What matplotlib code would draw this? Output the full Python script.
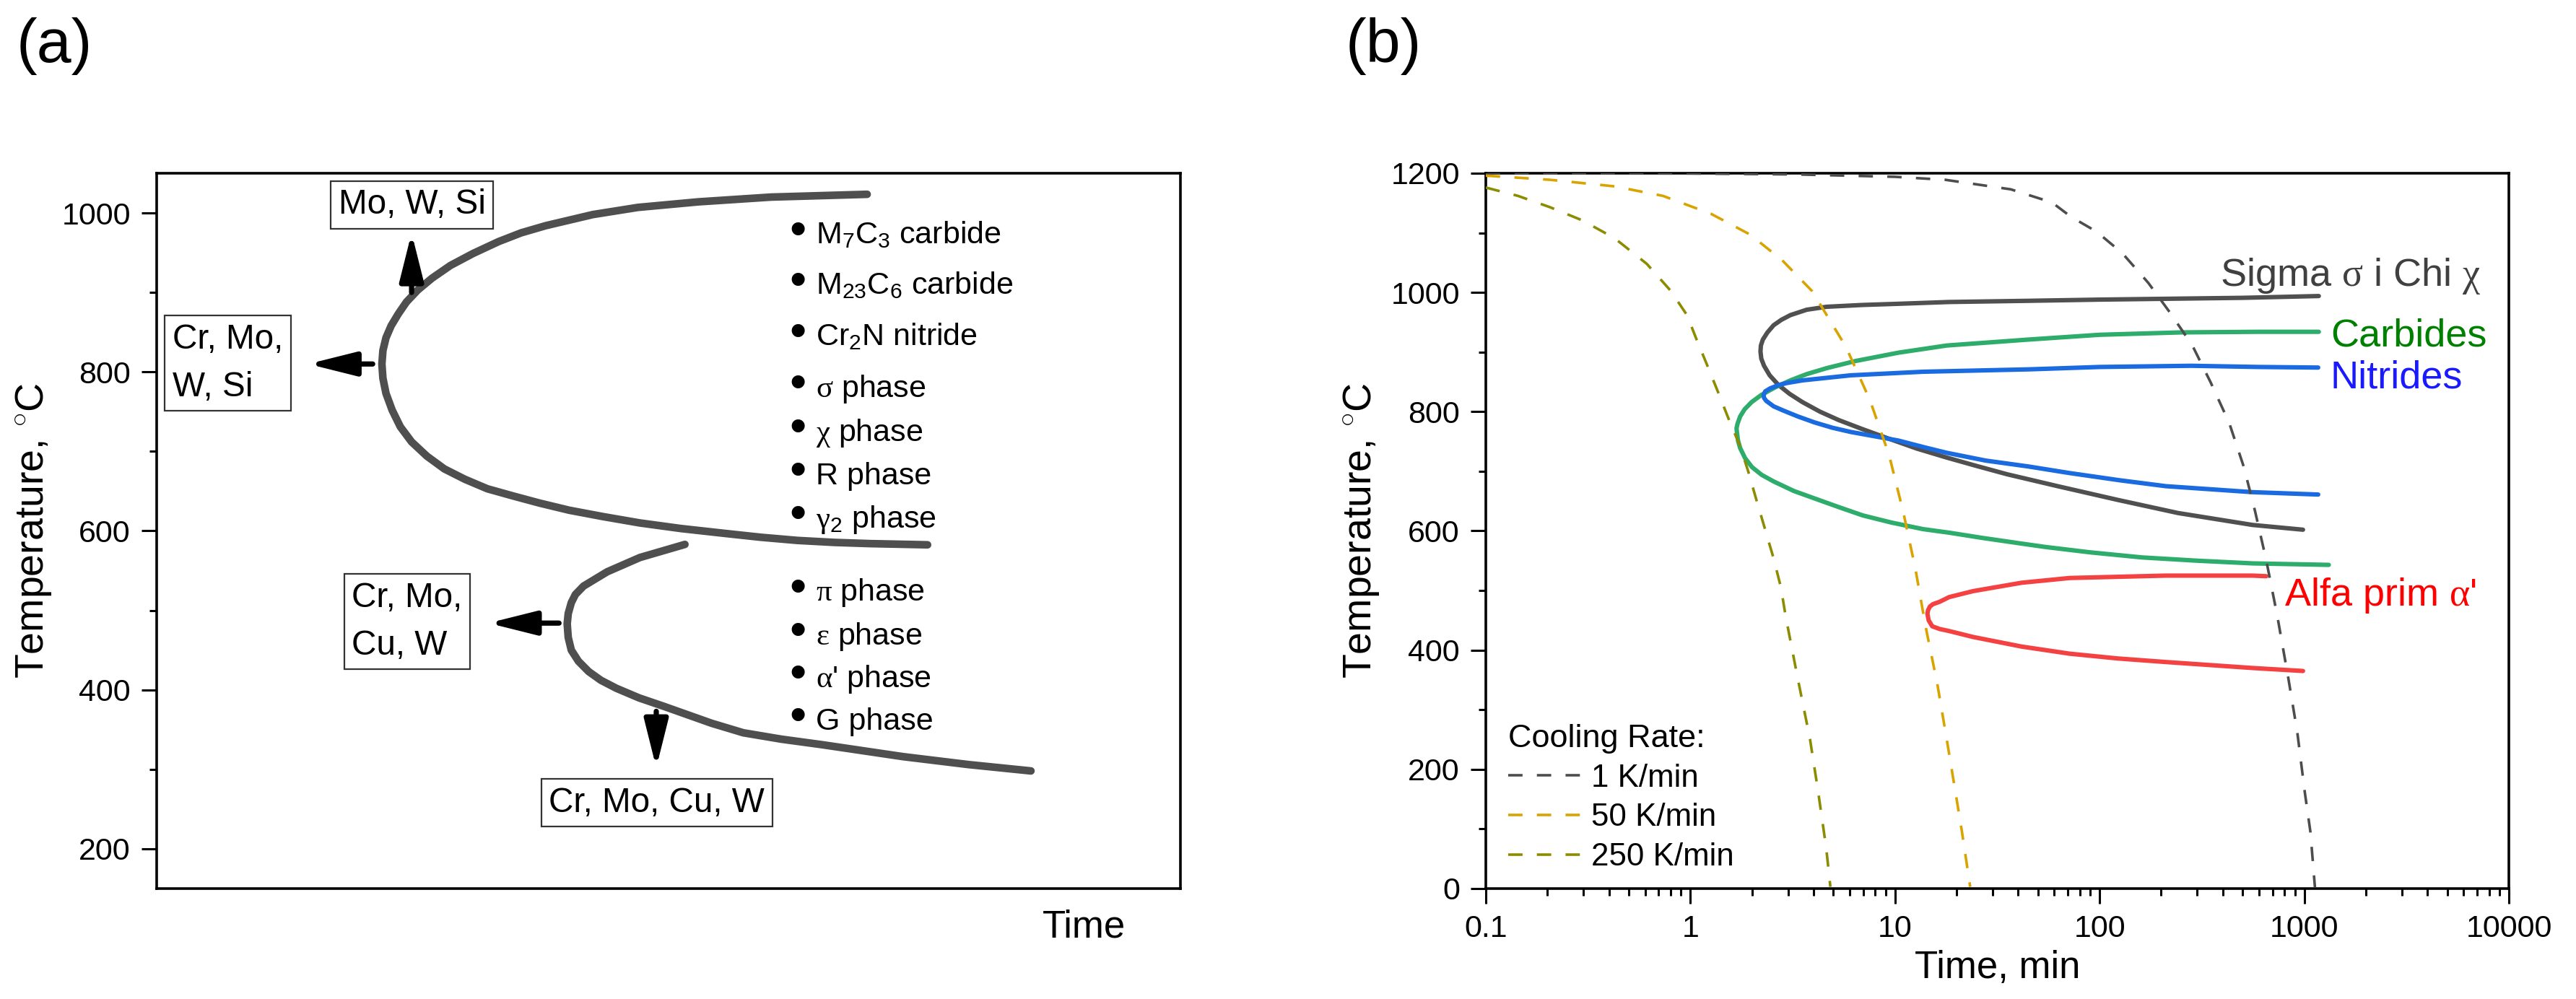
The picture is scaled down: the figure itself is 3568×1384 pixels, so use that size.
import matplotlib
matplotlib.use('Agg')
import matplotlib.pyplot as plt
from matplotlib.ticker import MultipleLocator, FixedLocator, FuncFormatter, NullFormatter, LogLocator

plt.rcParams['font.family'] = ['Liberation Sans', 'DejaVu Sans']
plt.rcParams['mathtext.fontset'] = 'custom'
plt.rcParams['mathtext.rm'] = 'Liberation Sans'
plt.rcParams['mathtext.it'] = 'Liberation Sans:italic'
plt.rcParams['mathtext.bf'] = 'Liberation Sans:bold'
plt.rcParams['mathtext.sf'] = 'Liberation Serif'

# ---------------- Panel (a) data (schematic TTP diagram, arbitrary time units 0-100) -------------
a_upper_x = [69.4, 60.0, 52.9, 47.0, 42.6, 38.0, 35.6, 33.4, 30.9, 28.7, 26.9, 25.5, 24.4, 23.6,
             22.9, 22.4, 22.1, 22.0, 22.1, 22.4, 23.0, 23.8, 24.9, 26.4, 28.1, 30.1, 32.3, 34.8,
             37.4, 40.3, 43.6, 47.2, 51.2, 55.4, 59.0, 62.6, 66.2, 69.7, 75.3]
a_upper_T = [1023.5, 1020, 1014, 1007, 998, 984, 975, 964, 949, 934, 918, 903, 888, 873,
             858, 843, 827, 810, 792, 773, 752, 731, 712, 694, 678, 665, 653, 644,
             635, 626, 618, 610, 603, 597, 592, 588, 585.5, 584, 582.5]
a_lower_x = [51.6, 47.2, 44.0, 41.7, 40.9, 40.5, 40.2, 40.1, 40.2, 40.5, 41.2, 42.2, 43.4,
             44.9, 47.1, 49.6, 54.2, 57.3, 61.0, 65.0, 72.9, 79.3, 85.4]
a_lower_T = [583, 566.5, 548.5, 530.6, 520, 509.7, 496, 483, 466, 450, 436, 423, 412,
             402, 390, 379, 358, 346, 338, 331, 316, 306, 298]

a_phase_labels = [r'M$_7$C$_3$ carbide', r'M$_{23}$C$_6$ carbide', r'Cr$_2$N nitride',
                  r'$\mathsf{\sigma}$ phase', r'$\mathsf{\chi}$ phase', 'R phase',
                  r'$\mathsf{\gamma}_2$ phase', r'$\mathsf{\pi}$ phase', r'$\mathsf{\varepsilon}$ phase',
                  r"$\mathsf{\alpha}$' phase", 'G phase']
a_phase_T = [961.6, 898, 833.7, 768.8, 713, 659, 604.5, 512, 457.3, 403.3, 350]
a_phase_x = 64.4

a_box_texts = ['Mo, W, Si', 'Cr, Mo,\nW, Si', 'Cr, Mo,\nCu, W', 'Cr, Mo, Cu, W']
a_box_x = [24.96, 6.95, 24.47, 48.84]
a_box_T = [1010.4, 810.9, 485.7, 258]

a_arrow_start = [(24.9, 900), (21.1, 810), (39.3, 484), (48.8, 373)]
a_arrow_end = [(24.9, 975), (14.8, 810), (32.4, 484), (48.8, 302)]

# ---------------- Panel (b) data ----------------
sig_t = [1178, 500, 100, 45, 18.4, 10.4, 6.9, 4.63, 3.7, 3.08, 2.78, 2.55, 2.38, 2.26, 2.21,
         2.2, 2.22, 2.29, 2.44, 2.69, 3.05, 3.53, 4.3, 5.30, 6.9, 9.1, 12.8, 17.9, 25, 35.3,
         62.4, 122.6, 241.5, 558.6, 986]
sig_T = [994, 991, 988, 986, 984, 981, 979, 976, 971, 962, 954, 945, 933, 921, 911,
         901, 889, 877, 861, 845, 830, 816, 800, 786, 771, 756, 738, 723, 709, 695,
         675, 652, 630, 610, 602]

carb_t = [1178, 600, 250, 100, 45, 17.9, 10.4, 6.41, 4.63, 3.7, 3.08, 2.6, 2.22, 1.99, 1.84,
          1.75, 1.70, 1.68, 1.69, 1.71, 1.75, 1.85, 2.0, 2.23, 2.55, 3.2, 4.04, 5.3, 6.95,
          9.6, 13.7, 18.4, 27, 45, 54.4, 90, 161, 300, 559, 1318]
carb_T = [934, 934, 933, 929, 921, 911, 899, 885, 873, 863, 852.5, 841, 828, 816, 804,
          792, 780, 772, 764, 751, 739, 722, 707, 694, 683, 667, 654.5, 640, 626,
          614, 603, 597, 588, 577, 573, 564, 555.5, 550, 545.5, 543]

nit_t = [1170, 600, 280, 100, 45, 13.7, 6.07, 3.53, 2.95, 2.69, 2.45, 2.32, 2.28, 2.29, 2.35,
         2.55, 2.84, 3.35, 4.04, 4.95, 6.07, 10.4, 14.0, 17.9, 27.7, 45, 71.4, 125, 211, 559, 1170]
nit_T = [874, 875, 877, 875, 871, 867, 861, 852.5, 848, 844.5, 839, 834, 828, 823, 818,
         809, 802, 792, 782, 773, 766, 751.5, 740, 731, 718, 708, 697, 685, 675, 665, 661]

alfa_t = [652, 559, 211, 71.4, 41.5, 24.1, 18.4, 16.5, 15.3, 14.8, 14.5, 14.4, 14.6, 15.2,
          16.5, 18.4, 24.1, 41.5, 71.4, 122.6, 211, 559, 986]
alfa_T = [524, 525, 525, 521, 513, 499, 489, 481, 477, 473, 467, 461, 450, 440,
          435.5, 432, 422, 406, 394, 386, 380, 370, 365]

r1_t = [0.1, 1, 3.3, 10, 17.6, 36.8, 58.5, 72.4, 96.6, 129, 173, 221, 284, 349, 430, 507,
        575, 651, 737, 835, 925, 1006, 1072, 1128]
r1_T = [1200, 1199.5, 1198, 1194, 1189, 1173, 1151, 1127, 1102, 1066, 1016, 966, 911, 849,
        781, 707, 633, 552, 459, 354, 262, 162, 95, 2]

r50_t = [0.1, 0.206, 0.426, 0.734, 1.26, 1.96, 2.81, 3.94, 5.75, 7.53, 9.36, 11.0, 12.6,
         14.1, 16.1, 17.9, 20.0, 21.2, 23.3]
r50_T = [1196, 1189, 1178, 1162, 1132, 1097, 1054, 1002, 909, 820, 727, 630, 535,
         440, 343, 250, 150, 97, 3]

r250_t = [0.1, 0.1436, 0.206, 0.296, 0.426, 0.612, 0.80, 0.962, 1.072, 1.211, 1.368, 1.545,
          1.746, 1.92, 2.11, 2.32, 2.55, 2.77, 2.92, 3.34, 3.84, 4.2, 4.61, 4.83]
r250_T = [1176, 1162, 1143, 1121, 1091, 1048, 1003, 962, 921, 877, 832, 786,
          743, 699, 650, 602, 554, 505, 457, 354, 251, 165, 68, 3]

rate_labels = ['1 K/min', '50 K/min', '250 K/min']
rate_colors = ['#4d4d4d', '#d9a300', '#8c8c00']

b_series_labels = [r'Sigma $\mathsf{\sigma}$ i Chi $\mathsf{\chi}$', 'Carbides', 'Nitrides',
                   r"Alfa prim $\mathsf{\alpha}$'"]
b_label_t = [388, 1343, 1343, 800]
b_label_T = [1011, 909.6, 840, 475]
b_label_colors = ['#404040', '#008000', '#1a1aff', '#ff0000']
b_line_colors = ['#505050', '#2eac6b', '#1a6ae0', '#f44242']

b_xticks = [0.1, 1, 10, 100, 1000, 10000]

# ---------------- Figure ----------------
fig = plt.figure(figsize=(17.84, 6.92), dpi=200)
axA = fig.add_axes([0.06082, 0.11055, 0.39742, 0.71604])
axB = fig.add_axes([0.57679, 0.11055, 0.39714, 0.71604])
axB.set_xscale('log')

for ax in (axA, axB):
    for s in ax.spines.values():
        s.set_linewidth(1.3)
    ax.tick_params(which='major', direction='out', length=7.5, width=1.1, labelsize=15.5, pad=5.5)
    ax.tick_params(which='minor', direction='out', length=3.6, width=1.1)

# ---- Panel (a)
curve_col = '#4f4f4f'
axA.plot(a_upper_x, a_upper_T, color=curve_col, lw=3.8, solid_capstyle='round', solid_joinstyle='round')
axA.plot(a_lower_x, a_lower_T, color=curve_col, lw=3.8, solid_capstyle='round', solid_joinstyle='round')
axA.set_xlim(0, 100)
axA.set_ylim(150, 1050)
axA.yaxis.set_major_locator(MultipleLocator(200))
axA.yaxis.set_minor_locator(MultipleLocator(100))
axA.tick_params(axis='x', which='both', bottom=False, labelbottom=False)
axA.set_ylabel(r'Temperature, $^{\circ}$C', fontsize=20)
axA.yaxis.set_label_coords(-0.1012, 0.5)
axA.text(0.906, -0.0686, 'Time', transform=axA.transAxes, ha='center', va='baseline', fontsize=19)

for s, e in zip(a_arrow_start, a_arrow_end):
    axA.annotate('', xy=e, xytext=s,
                 arrowprops=dict(arrowstyle='-|>,head_length=0.8,head_width=0.2', lw=2.6,
                                 color='black', shrinkA=0, shrinkB=0, mutation_scale=25))

for txt, x, T in zip(a_box_texts, a_box_x, a_box_T):
    axA.text(x, T, txt, ha='center', va='center', multialignment='left', fontsize=17.2,
             linespacing=1.6,
             bbox=dict(boxstyle='square,pad=0.22', fc='white', ec='#333333', lw=0.8))

for lab, T in zip(a_phase_labels, a_phase_T):
    axA.text(a_phase_x, T, lab, ha='left', va='baseline', fontsize=15.5)
    axA.annotate('\u2022', xy=(a_phase_x, T), xytext=(-9, -0.5), textcoords='offset points',
                 ha='center', va='baseline', fontsize=24)

# ---- Panel (b)
for t, T, c, lab in zip([r1_t, r50_t, r250_t], [r1_T, r50_T, r250_T], rate_colors, rate_labels):
    axB.plot(t, T, color=c, lw=1.3, linestyle=(0, (5.5, 5.5)), label=lab, zorder=4)

for t, T, c in zip([sig_t, carb_t, nit_t, alfa_t], [sig_T, carb_T, nit_T, alfa_T], b_line_colors):
    axB.plot(t, T, color=c, lw=2.2, solid_capstyle='round', solid_joinstyle='round', zorder=3)

for lab, t, T, c in zip(b_series_labels, b_label_t, b_label_T, b_label_colors):
    axB.text(t, T, lab, color=c, fontsize=19.5, ha='left', va='baseline')

axB.set_xlim(0.1, 10000)
axB.set_ylim(0, 1200)
axB.xaxis.set_major_locator(FixedLocator(b_xticks))
axB.xaxis.set_major_formatter(FuncFormatter(lambda v, p: '%g' % v))
axB.xaxis.set_minor_locator(LogLocator(base=10, subs=range(2, 10), numticks=50))
axB.xaxis.set_minor_formatter(NullFormatter())
axB.yaxis.set_major_locator(MultipleLocator(200))
axB.yaxis.set_minor_locator(MultipleLocator(100))
axB.tick_params(axis='x', which='major', length=7.5, width=1.1, labelsize=15.5, pad=5.5)
axB.tick_params(axis='x', which='minor', length=3.6, width=1.1)
axB.set_ylabel(r'Temperature, $^{\circ}$C', fontsize=20)
axB.yaxis.set_label_coords(-0.102, 0.5)
axB.set_xlabel('Time, min', fontsize=19)
axB.xaxis.set_label_coords(0.5, -0.086)

leg = axB.legend(loc='lower left', bbox_to_anchor=(0.0219, 0.0232), frameon=False,
                 fontsize=15.8, title='Cooling Rate:', title_fontsize=16.2,
                 handlelength=2.35, handletextpad=0.28, labelspacing=0.31,
                 borderpad=0, borderaxespad=0, alignment='left')

fig.text(23 / 3568, 1 - 64.5 / 1384, '(a)', fontsize=31, ha='left', va='center')
fig.text(1864 / 3568, 1 - 64.5 / 1384, '(b)', fontsize=31, ha='left', va='center')

fig.savefig('out.png', dpi=200)
